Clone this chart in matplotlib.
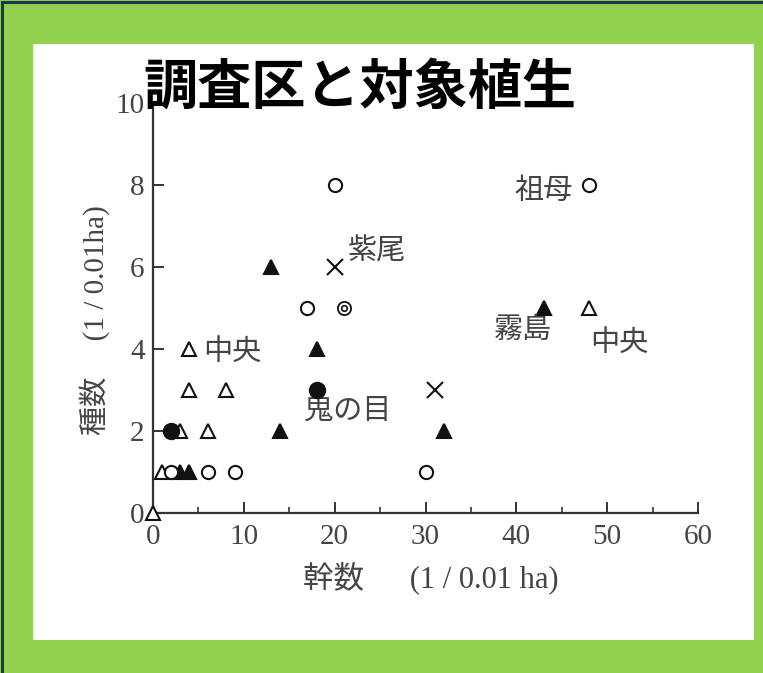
import matplotlib
matplotlib.use("Agg")
import matplotlib.pyplot as plt
from matplotlib.patches import Rectangle
from matplotlib.lines import Line2D

plt.rcParams['font.family'] = ['Liberation Serif', 'Noto Sans CJK JP', 'DejaVu Sans']

# ---- data ----
open_tri_x = [0, 1, 3, 6, 4, 8, 4, 48]
open_tri_y = [0, 1, 2, 2, 3, 3, 4, 5]
filled_tri_x = [3, 4, 14, 32, 18, 43, 13]
filled_tri_y = [1, 1, 2, 2, 4, 5, 6]
open_circ_x = [2, 6, 9, 30, 17, 20, 48]
open_circ_y = [1, 1, 1, 1, 5, 8, 8]
filled_circ_x = [2, 18]
filled_circ_y = [2, 3]
cross_x = [20, 31]
cross_y = [6, 3]
dbl_circ_x = [21]
dbl_circ_y = [5]

labels = ["紫尾", "祖母", "霧島", "中央", "中央", "鬼の目"]
label_x = [21.4, 46.2, 40.7, 51.3, 5.5, 21.4]
label_y = [6.37, 7.85, 4.46, 4.15, 3.93, 2.46]
label_ha = ["left", "right", "center", "center", "left", "center"]

x_ticks = [0, 10, 20, 30, 40, 50, 60]
y_ticks = [0, 2, 4, 6, 8, 10]

title = "調査区と対象植生"
xlabel = "幹数　  (1 / 0.01 ha)"
ylabel = "種数　 (1 / 0.01ha)"

# ---- figure ----
W, H = 763, 673
fig = plt.figure(figsize=(W / 100, H / 100), dpi=100)
fig.patch.set_facecolor("#92D050")

# white panel
fig.patches.append(Rectangle((33 / W, 1 - 640 / H), (754 - 33) / W, (640 - 44) / H,
                             transform=fig.transFigure, facecolor="white",
                             edgecolor="none", zorder=-5))
# dark border (top & left)
fig.lines.append(Line2D([2 / W, 2 / W], [0, 1 - 2 / H], transform=fig.transFigure,
                        color="#1F3358", lw=2.2, zorder=-4))
fig.lines.append(Line2D([2 / W, 1], [1 - 2 / H, 1 - 2 / H], transform=fig.transFigure,
                        color="#1F3358", lw=2.2, zorder=-4, solid_capstyle="butt"))

ax = fig.add_axes([153 / W, 1 - 513 / H, (698 - 153) / W, (513 - 103) / H])
ax.set_zorder(2)
ax.set_facecolor("none")
ax.set_xlim(0, 60)
ax.set_ylim(0, 10)

ms = 10
ec = "#111111"
ax.plot(open_tri_x, open_tri_y, linestyle="none", marker="^", ms=ms, mfc="white",
        mec=ec, mew=1.5, clip_on=False, zorder=3)
ax.plot(filled_tri_x, filled_tri_y, linestyle="none", marker="^", ms=ms, mfc=ec,
        mec=ec, mew=1.5, clip_on=False, zorder=3)
ax.plot(open_circ_x, open_circ_y, linestyle="none", marker="o", ms=ms - 0.5, mfc="white",
        mec=ec, mew=1.5, clip_on=False, zorder=3)
ax.plot(filled_circ_x, filled_circ_y, linestyle="none", marker="o", ms=ms + 1, mfc=ec,
        mec=ec, mew=1.5, clip_on=False, zorder=4)
ax.plot(cross_x, cross_y, linestyle="none", marker="x", ms=ms + 1, mec=ec, mew=1.5,
        clip_on=False, zorder=3)
ax.plot(dbl_circ_x, dbl_circ_y, linestyle="none", marker="o", ms=ms - 0.5, mfc="white",
        mec=ec, mew=1.3, clip_on=False, zorder=3)
ax.plot(dbl_circ_x, dbl_circ_y, linestyle="none", marker="o", ms=4, mfc="white",
        mec=ec, mew=1.2, clip_on=False, zorder=4)

for t, x, y, ha in zip(labels, label_x, label_y, label_ha):
    ax.text(x, y, t, ha=ha, va="center", fontsize=21, color="#444444",
            family=["Noto Sans CJK JP"])

for s in ["top", "right"]:
    ax.spines[s].set_visible(False)
for s in ["left", "bottom"]:
    ax.spines[s].set_linewidth(1.6)
    ax.spines[s].set_color("#333333")

ax.set_xticks(x_ticks)
ax.set_yticks(y_ticks)
ax.set_xticks([5, 15, 25, 35, 45, 55], minor=True)
ax.tick_params(axis="both", which="major", direction="in", length=8, width=1.4,
               color="#333333", labelsize=21, labelcolor="#444444")
ax.tick_params(axis="x", which="minor", direction="in", length=4, width=1.2,
               color="#333333")
ax.tick_params(axis="x", which="major", pad=8)
ax.tick_params(axis="y", which="major", pad=6)

fig.text(431 / W, 1 - 578 / H, xlabel, ha="center", va="center", fontsize=22,
         color="#444444")
fig.text(95 / W, 1 - 320 / H, ylabel, ha="center", va="center", fontsize=21,
         color="#444444", rotation=90)

fig.text(143 / W, 1 - 88 / H, title, ha="left", va="center", fontsize=39,
         fontweight="bold", color="black", family=["Noto Sans CJK JP"], zorder=10)

fig.savefig("out.png", dpi=100, facecolor=fig.get_facecolor())
